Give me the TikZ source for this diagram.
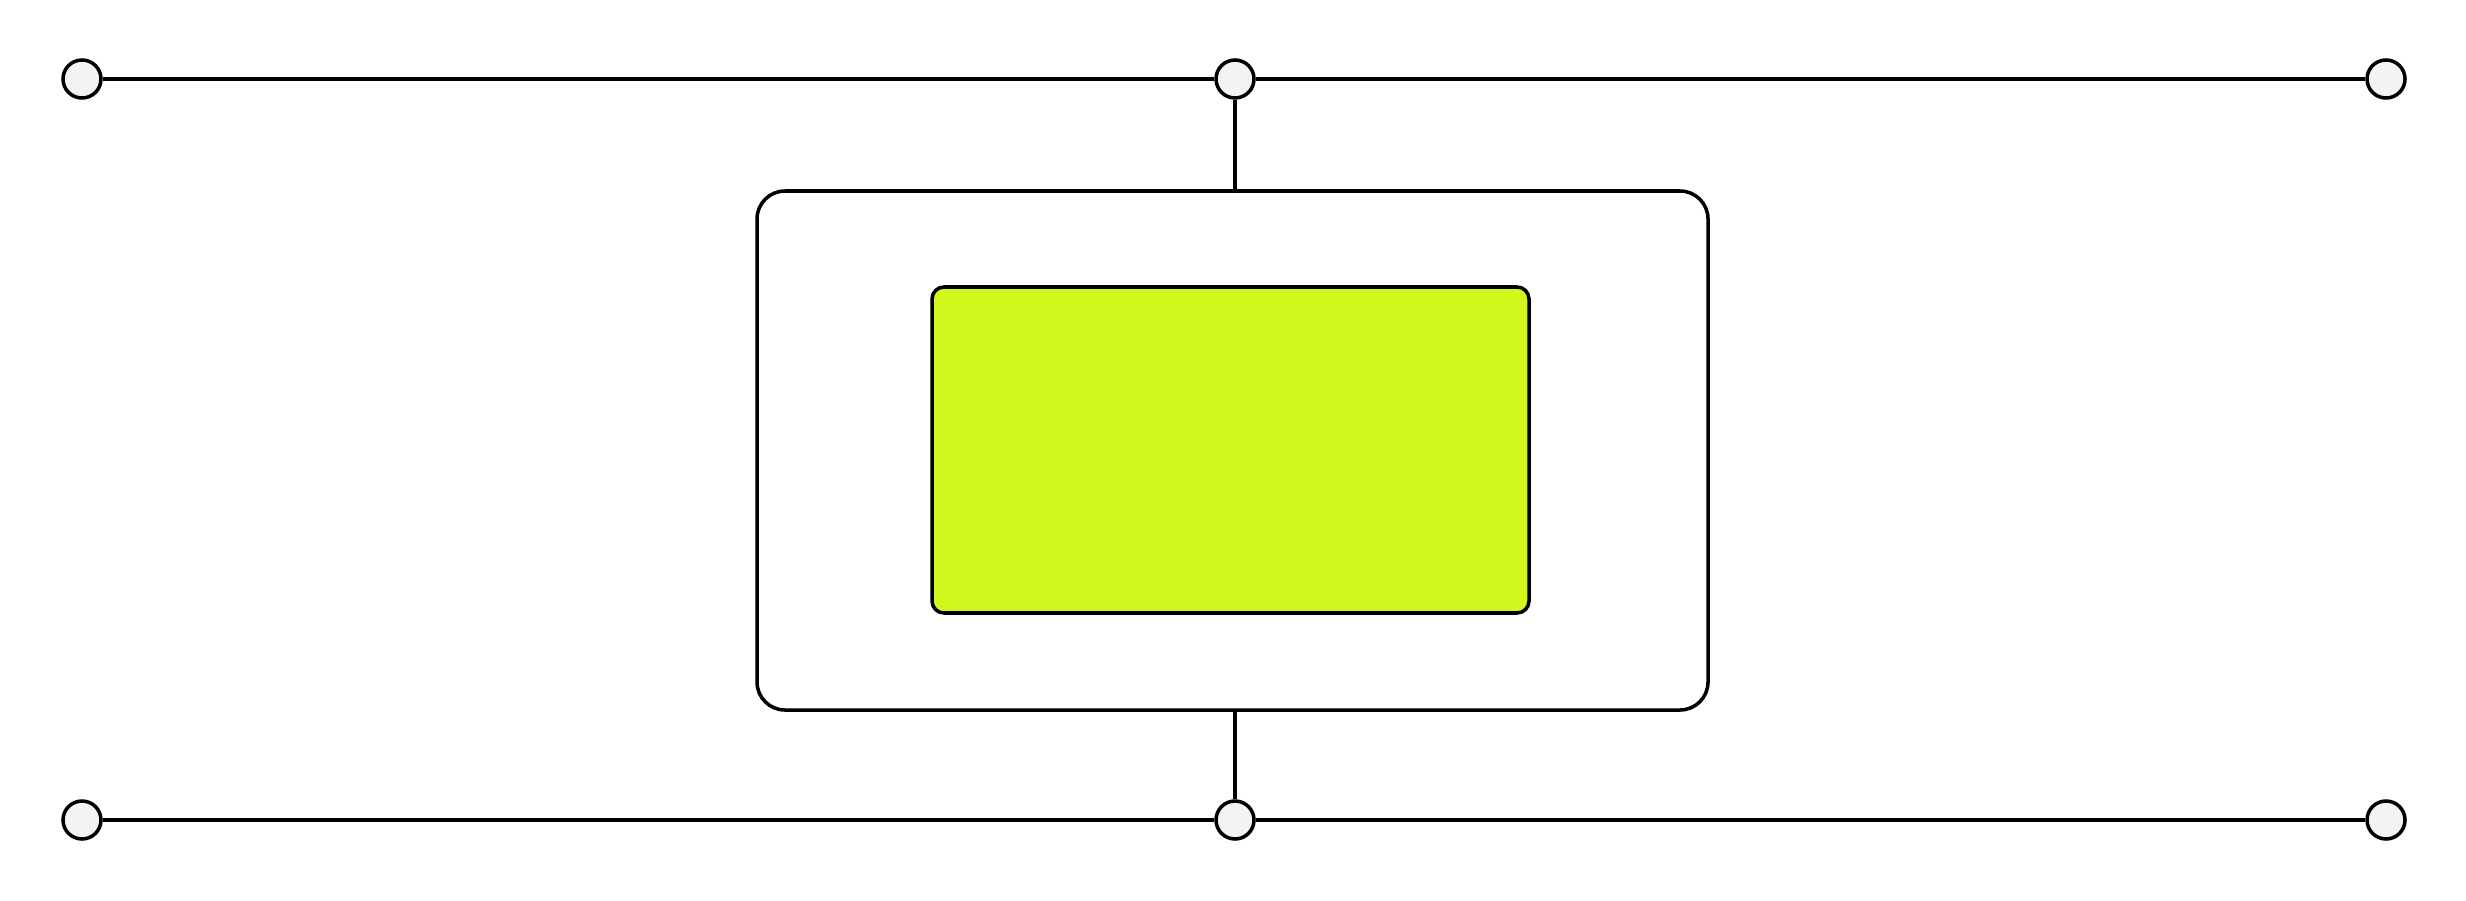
\documentclass[tikz,border=0pt]{standalone}
\usepackage{tikz}
\usepackage{amsmath}

\definecolor{lime}{HTML}{D0F81C}
\definecolor{dotgray}{HTML}{F3F3F3}

\tikzset{
    joint/.style={circle, draw=black, fill=dotgray, line width=1pt, inner sep=0pt, minimum size=0.38cm},
    wire/.style={black, line width=1pt},
}

\begin{document}
\begin{tikzpicture}
        \useasboundingbox (0,0) rectangle (24.66,9);
        % Below nodes are the joints.
            \node[joint] (tl) at (0.82, 8.21) {};
            \node[joint] (tm) at (12.35, 8.21) {};
            \node[joint] (tr) at (23.86, 8.21) {};
            \node[joint] (bl) at (0.82, 0.80) {};
            \node[joint] (bm) at (12.35, 0.80) {};
            \node[joint] (br) at (23.86, 0.80) {};
        % The two boxes.
            \node[draw=black, line width=1pt, rounded corners=0.28cm, minimum width=9.51cm, minimum height=5.19cm, inner sep=0pt] (outer) at (12.325, 4.495) {};
            \node[draw=black, fill=lime, line width=1pt, rounded corners=0.12cm, minimum width=5.97cm, minimum height=3.26cm, inner sep=0pt] (inner) at (12.305, 4.50) {};
        % This draws the wires.
            \draw[wire] (tl) -- (tm) -- (tr);
            \draw[wire] (bl) -- (bm) -- (br);
            \draw[wire] (tm) -- (tm |- outer.north);
            \draw[wire] (bm) -- (bm |- outer.south);
    \end{tikzpicture}
\end{document}
